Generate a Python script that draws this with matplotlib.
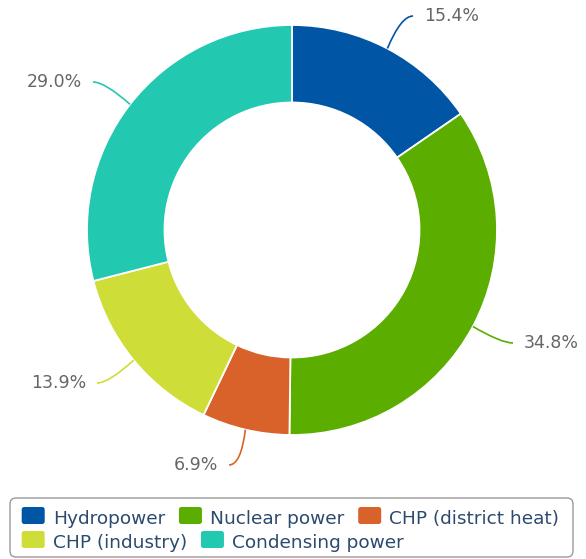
import numpy as np
import matplotlib

matplotlib.use("Agg")

import matplotlib.pyplot as plt
from matplotlib.patches import FancyBboxPatch
from matplotlib.path import Path
from matplotlib.patches import PathPatch

# -----------------------------
# Data
# -----------------------------
categories = ["Hydropower", "Nuclear power", "CHP (district heat)", "CHP (industry)", "Condensing power"]
shares = [15.4, 34.8, 6.9, 13.9, 29.0]
colors = ["#0055a5", "#5bae00", "#d9622b", "#cfdd38", "#22c8b0"]

# -----------------------------
# Layout (pixel space, y measured from the top of the image)
# -----------------------------
W, H = 586, 559
CX, CY = 292, 230
R_OUT, R_IN = 205, 127.5

# label anchor: (x, y, side) side=+1 text to the right, -1 text to the left
label_anchor = [(413, 16, 1), (513, 343, 1), (229, 465, -1), (97, 383, -1), (93, 82, -1)]

LABEL_COLOR = "#666666"
LEGEND_COLOR = "#2b4a6e"
FONT = "DejaVu Sans"

fig = plt.figure(figsize=(W / 100, H / 100), dpi=100)
fig.patch.set_facecolor("white")
ax = fig.add_axes([0, 0, 1, 1])


def Y(y):
    return H - y


wedges, _ = ax.pie(
    shares,
    colors=colors,
    startangle=90,
    counterclock=False,
    center=(CX, Y(CY)),
    radius=R_OUT,
    wedgeprops=dict(width=R_OUT - R_IN, edgecolor="white", linewidth=1.3),
)

ax.set_xlim(0, W)
ax.set_ylim(0, H)
ax.set_aspect("equal")
ax.axis("off")

# data labels with soft connectors
for w, v, col, (lx, ly, side) in zip(wedges, shares, colors, label_anchor):
    mid = np.deg2rad((w.theta1 + w.theta2) / 2)
    x0 = CX + R_OUT * np.cos(mid)
    y0 = Y(CY) + R_OUT * np.sin(mid)
    x2, y2 = lx, Y(ly)
    x1, y1 = x2 - side * 12, y2
    path = Path([(x0, y0), (x1, y1), (x2, y2)], [Path.MOVETO, Path.CURVE3, Path.CURVE3])
    ax.add_patch(PathPatch(path, fill=False, edgecolor=col, linewidth=1.2))
    ax.text(lx + side * 11, Y(ly), f"{v:.1f}%", ha="left" if side > 0 else "right",
            va="center", fontsize=12.5, color=LABEL_COLOR, family=FONT)

# legend box
ax.add_patch(FancyBboxPatch((10, Y(557)), 563, 59, boxstyle="round,pad=0,rounding_size=6",
                            facecolor="white", edgecolor="#9a9a9a", linewidth=1.0))

renderer = fig.canvas.get_renderer()
x = 21.7
row = 0
baselines = [523.5, 547.5]
sym_tops = [507, 531]
for name, col in zip(categories, colors):
    t = ax.text(0, 0, name, fontsize=13.3, color=LEGEND_COLOR, family=FONT, va="baseline", ha="left")
    tw = t.get_window_extent(renderer).width
    if x + 23 + 8 + tw > 570:
        row += 1
        x = 21.7
    ax.add_patch(FancyBboxPatch((x, Y(sym_tops[row] + 17)), 23, 17,
                                boxstyle="round,pad=0,rounding_size=2.5",
                                facecolor=col, edgecolor="none"))
    t.set_position((x + 31, Y(baselines[row])))
    x += 23 + 8 + tw + 14

plt.savefig("out.png", dpi=100)
